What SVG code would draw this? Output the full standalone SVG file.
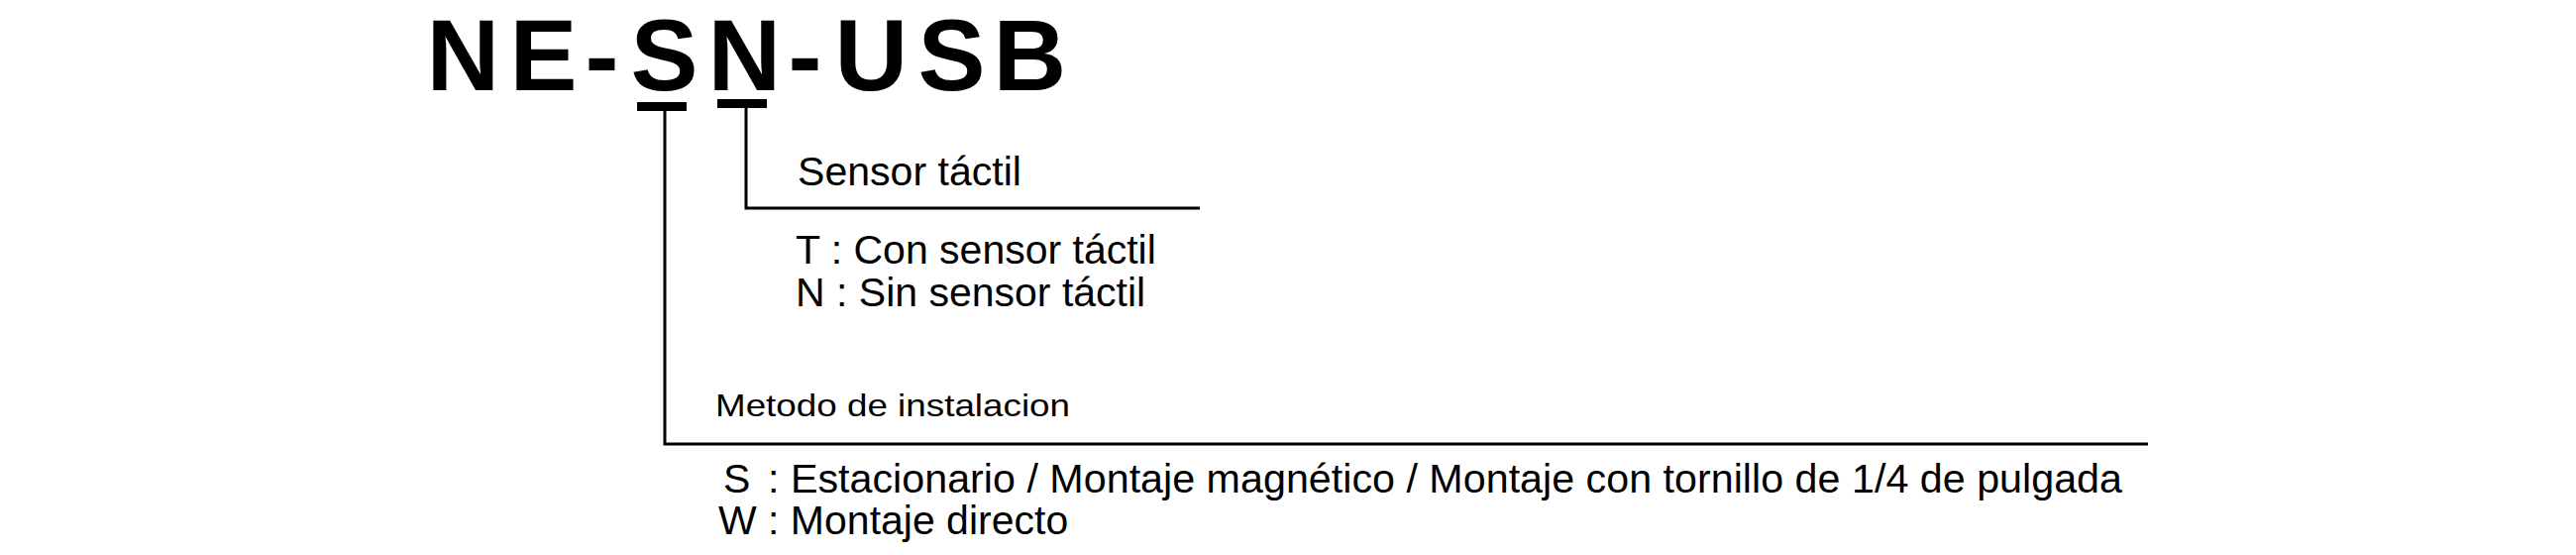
<svg xmlns="http://www.w3.org/2000/svg" width="2600" height="560" viewBox="0 0 2600 560">
  <style>
    .title { font-family: "Liberation Sans", Arial, sans-serif; font-weight: bold; font-size: 102px; fill: #000; }
    .lbl { font-family: "Liberation Sans", Arial, sans-serif; font-size: 41px; fill: #000; }
    .sm { font-family: "Liberation Sans", Arial, sans-serif; font-size: 32px; fill: #000; }
    .wire { fill: none; stroke: #000; stroke-width: 3; }
    .bar { fill: #000; }
  </style>
  <rect x="0" y="0" width="2600" height="560" fill="#fff"/>
  <g id="title">
    <text class="title" x="430.5 514.5 590.5 636.5 714.5 795.5 842.5 926.5 1002.5" y="91">NE-SN-USB</text>
    <rect class="bar" x="643" y="103" width="50" height="9"/>
    <rect class="bar" x="724" y="100" width="50" height="9"/>
  </g>
  <g id="connectors">
    <polyline class="wire" points="753,108 753,210 1211,210"/>
    <polyline class="wire" points="671,111 671,448 2168,448"/>
  </g>
  <g id="node-sensor">
    <text class="lbl" x="805" y="187" textLength="226" lengthAdjust="spacingAndGlyphs">Sensor táctil</text>
    <text class="lbl" x="803" y="266">T : Con sensor táctil</text>
    <text class="lbl" x="803" y="309">N : Sin sensor táctil</text>
  </g>
  <g id="node-metodo">
    <text class="sm" x="722" y="420" textLength="358" lengthAdjust="spacingAndGlyphs">Metodo de instalacion</text>
    <text class="lbl" y="497"><tspan x="730">S</tspan><tspan x="775" textLength="1367" lengthAdjust="spacingAndGlyphs">: Estacionario / Montaje magnético / Montaje con tornillo de 1/4 de pulgada</tspan></text>
    <text class="lbl" x="725" y="539">W : Montaje directo</text>
  </g>
</svg>
